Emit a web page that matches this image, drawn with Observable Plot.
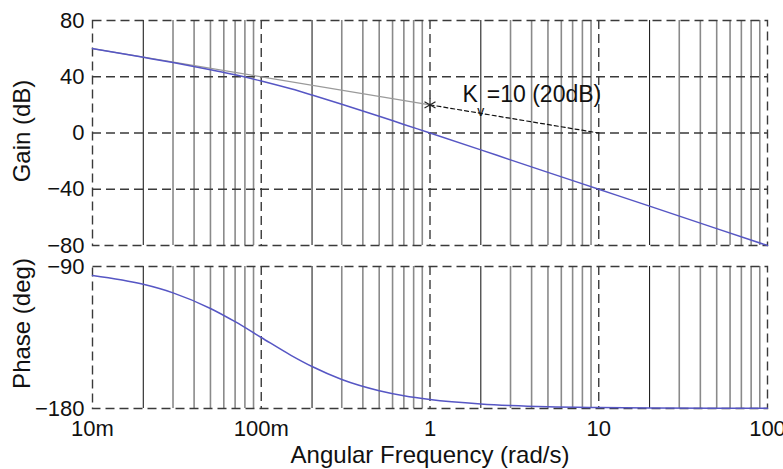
<!DOCTYPE html>
<html>
<head>
<meta charset="utf-8">
<script src="https://cdn.jsdelivr.net/npm/d3@7"></script>
<script src="https://cdn.jsdelivr.net/npm/@observablehq/plot@0.6"></script>
<style>
  html, body { margin: 0; padding: 0; background: #fff; overflow: hidden; }
  #chart { width: 783px; height: 469px; position: relative; }
  #chart svg { display: block; position: absolute; left: 0; overflow: visible; }
</style>
</head>
<body>
<div id="chart"></div>
<script>
// ---- data ----
const freq      = [0.01, 0.02, 0.03, 0.05, 0.07, 0.1, 0.15, 0.2, 0.3, 0.5, 0.7, 1, 2, 3, 5, 10, 20, 50, 100];
const gainDb    = [60.0, 53.8, 50.1, 45.0, 41.4, 37.0, 31.4, 27.0, 20.5, 11.9, 6.1, 0.0, -12.0, -19.1, -28.0, -40.0, -52.0, -68.0, -80.0];
const phaseDeg  = [-95.7, -101.3, -106.7, -116.6, -125.0, -135.0, -146.3, -153.4, -161.6, -168.7, -171.9, -174.3, -177.1, -178.1, -178.9, -179.4, -179.7, -179.9, -179.9];

const asymFreq  = [0.01, 1];
const asymGain  = [60, 20];
const kvFreq    = [1, 10];
const kvGain    = [20, 0];
const starPoint = [1, 20];
const annotation = ["K", "v", "=10 (20dB)"];

const xTicks       = [0.01, 0.1, 1, 10, 100];
const xTickLabels  = ["10m", "100m", "1", "10", "100"];
const gainTicks    = [80, 40, 0, -40, -80];
const phaseTicks   = [-90, -180];
const xLabel = "Angular Frequency (rad/s)";
const gainLabel = "Gain (dB)";
const phaseLabel = "Phase (deg)";

// ---- tables ----
const bode = freq.map((f, i) => ({f, g: gainDb[i], p: phaseDeg[i]}));
const asym = asymFreq.map((f, i) => ({f, g: asymGain[i]}));
const kvLine = kvFreq.map((f, i) => ({f, g: kvGain[i]}));
const minor = [];
const minor2 = [];
for (const dec of [0.01, 0.1, 1, 10]) {
  for (let m = 2; m <= 9; m++) (m === 2 ? minor2 : minor).push(+(m * dec).toPrecision(3));
}

const FONT = "'Liberation Sans', Arial, sans-serif";
const BLUE = "#5656c4";
const DASH = "9,5";
const W = 783, ML = 92, MR = 16;

const gridMarks = [
  Plot.ruleX(minor, {stroke: "#8a8a8a", strokeWidth: 1.6}),
  Plot.ruleX(minor2, {stroke: "#222", strokeWidth: 1.1}),
  Plot.ruleX([0.1, 1, 10], {stroke: "#3a3a3a", strokeWidth: 1.4, strokeDasharray: DASH})
];

const gainPlot = Plot.plot({
  width: W, height: 250,
  marginLeft: ML, marginRight: MR, marginTop: 20, marginBottom: 5,
  style: {fontFamily: FONT, fontSize: "22px", color: "#111", background: "transparent", overflow: "visible"},
  x: {type: "log", domain: [0.01, 100], axis: null},
  y: {domain: [-80, 80], axis: null},
  marks: [
    ...gridMarks,
    Plot.ruleY([40, 0, -40], {stroke: "#3a3a3a", strokeWidth: 1.4, strokeDasharray: DASH}),
    Plot.frame({stroke: "#3a3a3a", strokeWidth: 1.4, strokeDasharray: DASH}),
    Plot.axisY({ticks: gainTicks, tickSize: 0, tickPadding: 8, label: null, fontSize: 22}),
    Plot.text([gainLabel], {frameAnchor: "left", rotate: -90, dx: -70, dy: -2, textAnchor: "middle", lineAnchor: "middle", fontSize: 24}),
    Plot.line(asym, {x: "f", y: "g", stroke: "#9a9a9a", strokeWidth: 1.2}),
    Plot.line(kvLine, {x: "f", y: "g", stroke: "#111", strokeWidth: 1.2, strokeDasharray: "4,3"}),
    Plot.line(bode, {x: "f", y: "g", stroke: BLUE, strokeWidth: 1.5, curve: "monotone-x"}),
    Plot.dot([starPoint], {x: d => d[0], y: d => d[1], symbol: "asterisk", r: 6, stroke: "#222", strokeWidth: 1.2}),
    Plot.text([annotation[0]], {x: [1.56], y: [27], text: d => d, textAnchor: "start", fontSize: 23}),
    Plot.text([annotation[1]], {x: [2.0], y: [15.5], text: d => d, fontSize: 14}),
    Plot.text([annotation[2]], {x: [2.17], y: [27], text: d => d, textAnchor: "start", fontSize: 23})
  ]
});

const phasePlot = Plot.plot({
  width: W, height: 219,
  marginLeft: ML, marginRight: MR, marginTop: 16, marginBottom: 61,
  style: {fontFamily: FONT, fontSize: "22px", color: "#111", background: "transparent", overflow: "visible"},
  x: {type: "log", domain: [0.01, 100], axis: null},
  y: {domain: [-180, -90], axis: null},
  marks: [
    ...gridMarks,
    Plot.frame({stroke: "#3a3a3a", strokeWidth: 1.4, strokeDasharray: DASH}),
    Plot.axisY({ticks: phaseTicks, tickSize: 0, tickPadding: 8, label: null, fontSize: 22}),
    Plot.axisX({ticks: xTicks, tickFormat: d => xTickLabels[xTicks.indexOf(d)], tickSize: 0, tickPadding: 12, label: null, fontSize: 22}),
    Plot.text([phaseLabel], {frameAnchor: "left", rotate: -90, dx: -70, dy: -14, textAnchor: "middle", lineAnchor: "middle", fontSize: 24}),
    Plot.text([xLabel], {frameAnchor: "bottom", dy: 47, lineAnchor: "middle", fontSize: 24}),
    Plot.line(bode, {x: "f", y: "p", stroke: BLUE, strokeWidth: 1.5, curve: "monotone-x"})
  ]
});

const chart = document.getElementById("chart");
gainPlot.style.top = "0px";
phasePlot.style.top = "250px";
chart.appendChild(gainPlot);
chart.appendChild(phasePlot);
</script>
</body>
</html>
